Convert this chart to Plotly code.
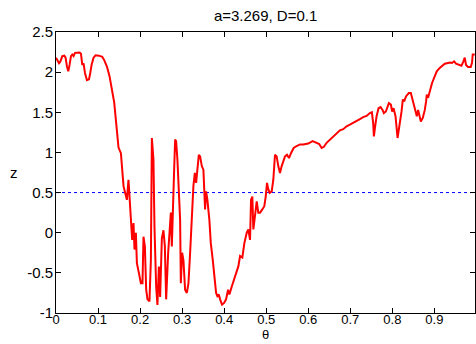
import plotly.graph_objects as go

theta = [0.0, 0.0038, 0.0071, 0.0102, 0.0150, 0.0197, 0.0228, 0.0261, 0.0292, 0.0323,
         0.0356, 0.0387, 0.0418, 0.0451, 0.0499, 0.0561, 0.0594, 0.0625, 0.0656, 0.0689,
         0.0736, 0.0784, 0.0815, 0.0846, 0.0893, 0.0941, 0.1021, 0.1100, 0.1147, 0.1211,
         0.1273, 0.1337, 0.1385, 0.1416, 0.1449, 0.1487, 0.1544, 0.1568, 0.1606, 0.1646,
         0.1686, 0.1724, 0.1748, 0.1781, 0.1812, 0.1843, 0.1867, 0.1900, 0.1924, 0.1971,
         0.2019, 0.2057, 0.2081, 0.2114, 0.2145, 0.2176, 0.2223, 0.2257, 0.2280, 0.2318,
         0.2342, 0.2382, 0.2413, 0.2447, 0.2477, 0.2518, 0.2556, 0.2589, 0.2620, 0.2668,
         0.2732, 0.2755, 0.2779, 0.2810, 0.2834, 0.2857, 0.2888, 0.2922, 0.2952, 0.2969,
         0.3000, 0.3031, 0.3071, 0.3112, 0.3150, 0.3190, 0.3230, 0.3268, 0.3302, 0.3333,
         0.3363, 0.3397, 0.3428, 0.3468, 0.3506, 0.3546, 0.3570, 0.3601, 0.3648, 0.3682,
         0.3729, 0.3760, 0.3808, 0.3838, 0.3872, 0.3903, 0.3950, 0.3998, 0.4045, 0.4093,
         0.4124, 0.4181, 0.4259, 0.4337, 0.4378, 0.4432, 0.4480, 0.4537, 0.4575, 0.4615,
         0.4639, 0.4670, 0.4694, 0.4734, 0.4774, 0.4812, 0.4853, 0.4907, 0.4955, 0.4988,
         0.5019, 0.5050, 0.5083, 0.5131, 0.5169, 0.5209, 0.5249, 0.5287, 0.5328, 0.5368,
         0.5406, 0.5447, 0.5494, 0.5542, 0.5589, 0.5653, 0.5724, 0.5803, 0.5881, 0.6000,
         0.6105, 0.6200, 0.6261, 0.6318, 0.6373, 0.6437, 0.6515, 0.6594, 0.6675, 0.6753,
         0.6831, 0.6912, 0.6990, 0.7069, 0.7150, 0.7228, 0.7306, 0.7387, 0.7466, 0.7513,
         0.7544, 0.7561, 0.7591, 0.7625, 0.7672, 0.7720, 0.7767, 0.7798, 0.7846, 0.7917,
         0.7965, 0.7995, 0.8029, 0.8076, 0.8124, 0.8171, 0.8219, 0.8250, 0.8280, 0.8328,
         0.8392, 0.8440, 0.8487, 0.8535, 0.8582, 0.8613, 0.8646, 0.8677, 0.8724, 0.8772,
         0.8803, 0.8819, 0.8850, 0.8898, 0.8945, 0.9010, 0.9057, 0.9121, 0.9183, 0.9247,
         0.9325, 0.9373, 0.9420, 0.9468, 0.9515, 0.9580, 0.9644, 0.9691, 0.9722, 0.9753,
         0.9800, 0.9865, 0.9895, 0.9912, 0.9960]

z = [2.18, 2.13, 2.11, 2.13, 2.20, 2.205, 2.18, 2.07, 2.01, 2.09,
     2.20, 2.22, 2.20, 2.24, 2.245, 2.245, 2.23, 2.09, 2.11, 1.99,
     1.90, 1.91, 1.99, 2.09, 2.18, 2.21, 2.205, 2.19, 2.15, 2.07,
     1.95, 1.78, 1.62, 1.45, 1.24, 1.06, 0.99, 0.785, 0.58, 0.495,
     0.41, 0.66, 0.45, 0.20, -0.09, 0.12, -0.21, 0.0, -0.38, -0.50,
     -0.63, -0.63, -0.05, -0.17, -0.71, -0.83, -0.855, -0.34, 1.18, 0.91,
     0.08, -0.67, -0.90, -0.42, -0.80, -0.07, 0.03, -0.17, -0.83, -0.25,
     0.25, -0.17, 0.16, 0.785, 1.16, 1.14, 0.91, 0.58, 0.16, -0.63,
     -0.25, -0.34, -0.71, -0.75, -0.63, -0.25, 0.16, 0.58, 0.745, 0.62,
     0.785, 0.97, 0.95, 0.83, 0.785, 0.29, 0.515, 0.41, 0.16, -0.13,
     -0.34, -0.50, -0.75, -0.79, -0.77, -0.83, -0.895, -0.875, -0.83, -0.71,
     -0.77, -0.67, -0.54, -0.42, -0.29, -0.31, -0.13, 0.0, 0.04, -0.09,
     0.41, 0.45, 0.04, 0.20, 0.39, 0.25, 0.25, 0.29, 0.33, 0.45,
     0.62, 0.54, 0.495, 0.515, 0.66, 0.97, 0.95, 0.83, 0.745, 0.83,
     0.89, 0.95, 0.97, 0.93, 0.99, 1.055, 1.08, 1.10, 1.10, 1.11,
     1.14, 1.12, 1.105, 1.055, 1.07, 1.12, 1.16, 1.20, 1.24, 1.275,
     1.29, 1.325, 1.345, 1.365, 1.385, 1.415, 1.44, 1.455, 1.49, 1.50,
     1.365, 1.20, 1.325, 1.45, 1.55, 1.565, 1.53, 1.49, 1.51, 1.615,
     1.595, 1.51, 1.55, 1.45, 1.18, 1.325, 1.51, 1.66, 1.635, 1.70,
     1.74, 1.74, 1.635, 1.53, 1.45, 1.53, 1.45, 1.385, 1.43, 1.53,
     1.635, 1.72, 1.68, 1.78, 1.865, 1.95, 2.01, 2.05, 2.08, 2.105,
     2.115, 2.12, 2.115, 2.135, 2.105, 2.09, 2.08, 2.135, 2.18, 2.09,
     2.065, 2.065, 2.115, 2.22, 2.22]

threshold = 0.5
x_ticks = [0, 0.1, 0.2, 0.3, 0.4, 0.5, 0.6, 0.7, 0.8, 0.9]
x_tick_labels = ["0", "0.1", "0.2", "0.3", "0.4", "0.5", "0.6", "0.7", "0.8", "0.9"]
y_ticks = [-1, -0.5, 0, 0.5, 1, 1.5, 2, 2.5]
y_tick_labels = ["-1", "-0.5", "0", "0.5", "1", "1.5", "2", "2.5"]

FONT = "Liberation Sans, Arial, Helvetica, sans-serif"
FS = 15

fig = go.Figure()
fig.add_trace(go.Scatter(x=[theta[0], theta[-1]], y=[threshold, threshold], mode="lines",
                         line=dict(color="#0000ff", width=1, dash="dot"),
                         hoverinfo="skip", showlegend=False))
fig.add_trace(go.Scatter(x=theta, y=z, mode="lines",
                         line=dict(color="#ff0000", width=2),
                         showlegend=False))

axis_common = dict(showline=True, linecolor="black", linewidth=1, mirror="ticks",
                   ticks="inside", ticklen=5, tickcolor="black", showgrid=False,
                   zeroline=False)

fig.update_xaxes(range=[0, 0.9966], tickvals=x_ticks, ticktext=x_tick_labels,
                 ticklabelstandoff=-6, tickfont=dict(family=FONT, size=13, color="black"),
                 **axis_common)
fig.update_yaxes(range=[-1, 2.5], tickvals=y_ticks, ticktext=y_tick_labels,
                 ticklabelstandoff=-1, tickfont=dict(family=FONT, size=FS, color="black"),
                 **axis_common)

fig.update_layout(
    width=476, height=344,
    margin=dict(l=56, r=1, t=32, b=31),
    plot_bgcolor="white", paper_bgcolor="white",
    font=dict(family=FONT, size=FS, color="black"),
    title=dict(text="a=3.269, D=0.1", x=0.558, xanchor="center", y=0.955, yanchor="middle",
               font=dict(family=FONT, size=FS, color="black")),
    annotations=[
        dict(text="θ", xref="paper", yref="paper", x=0.5, y=-0.109, xanchor="center",
             yanchor="bottom", showarrow=False, font=dict(family=FONT, size=13, color="black")),
        dict(text="z", xref="paper", x=-0.1, xanchor="center", yref="paper", y=0.5,
             yanchor="middle", showarrow=False, font=dict(family=FONT, size=FS, color="black")),
    ],
)

fig.write_html("out.html")
